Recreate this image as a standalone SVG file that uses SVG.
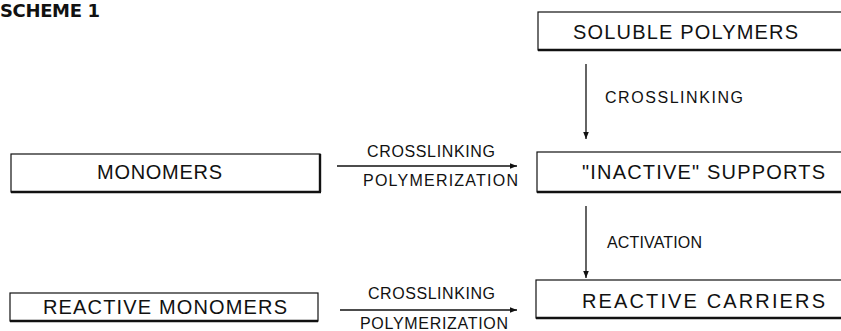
<svg xmlns="http://www.w3.org/2000/svg" width="841" height="331" viewBox="0 0 841 331">
<style>
.box{fill:#fff;stroke:#111;stroke-width:1.2}
.shadow{stroke:#111;stroke-width:2.4;fill:none}
.bt{font-family:"Liberation Sans",Arial,sans-serif;font-size:20px;fill:#111}
.lb{font-family:"Liberation Sans",Arial,sans-serif;font-size:16px;fill:#111}
.conn{stroke:#111;stroke-width:1.3;fill:none;marker-end:url(#ah)}
</style>
<defs>
<marker id="ah" viewBox="0 0 10 10" refX="10" refY="5" markerWidth="11" markerHeight="7" markerUnits="userSpaceOnUse" orient="auto">
<path d="M0,1 L10,5 L0,9 z" fill="#111"/>
</marker>
</defs>
<rect width="841" height="331" fill="#fff"/>
<text x="0" y="17" font-family="'DejaVu Sans',sans-serif" font-weight="bold" font-size="18" textLength="100" fill="#111">SCHEME 1</text>

<g id="soluble-polymers">
<rect class="box" x="538" y="12" width="310" height="38"/>
<line class="shadow" x1="538" y1="50" x2="845" y2="50"/>
<text class="bt" x="573" y="39" textLength="225">SOLUBLE POLYMERS</text>
</g>
<g id="monomers">
<rect class="box" x="11" y="154" width="309" height="38"/>
<line class="shadow" x1="11" y1="192" x2="321" y2="192"/>
<line class="shadow" x1="320" y1="154" x2="320" y2="192"/>
<text class="bt" x="97" y="179" textLength="125">MONOMERS</text>
</g>
<g id="inactive-supports">
<rect class="box" x="537" y="152" width="310" height="40"/>
<line class="shadow" x1="537" y1="192" x2="845" y2="192"/>
<text class="bt" x="582" y="179" textLength="243">"INACTIVE" SUPPORTS</text>
</g>
<g id="reactive-monomers">
<rect class="box" x="10" y="293" width="308" height="28"/>
<line class="shadow" x1="10" y1="321" x2="318" y2="321"/>
<text class="bt" x="43" y="314" textLength="244">REACTIVE MONOMERS</text>
</g>
<g id="reactive-carriers">
<rect class="box" x="536" y="280" width="310" height="38"/>
<line class="shadow" x1="536" y1="318" x2="845" y2="318"/>
<text class="bt" x="582" y="308" textLength="243">REACTIVE CARRIERS</text>
</g>

<g id="connectors">
<line class="conn" x1="586" y1="64" x2="586" y2="139"/>
<text class="lb" x="605" y="103" textLength="138">CROSSLINKING</text>
<line class="conn" x1="337" y1="166" x2="517" y2="166"/>
<text class="lb" x="367" y="157" textLength="128">CROSSLINKING</text>
<text class="lb" x="363" y="186" textLength="155">POLYMERIZATION</text>
<line class="conn" x1="586" y1="206" x2="586" y2="278"/>
<text class="lb" x="607" y="248" textLength="95">ACTIVATION</text>
<line class="conn" x1="340" y1="310" x2="517" y2="310"/>
<text class="lb" x="368" y="299" textLength="127">CROSSLINKING</text>
<text class="lb" x="360" y="329" textLength="148">POLYMERIZATION</text>
</g>
</svg>
